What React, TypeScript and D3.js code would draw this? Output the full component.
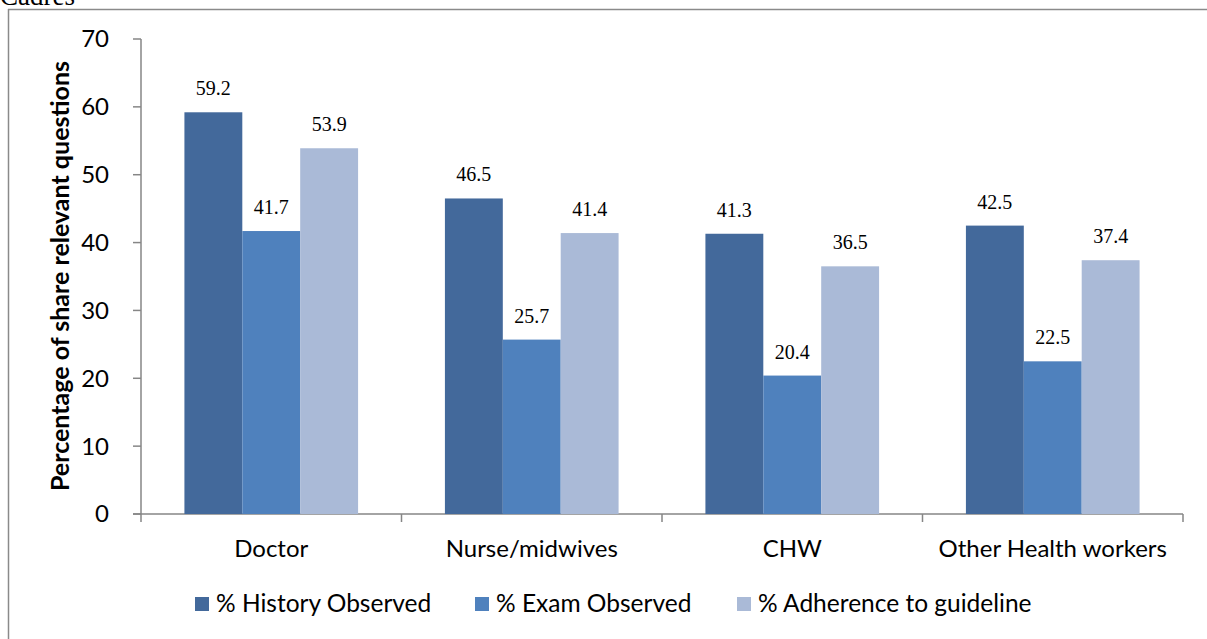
import React from "react";
import * as d3 from "d3";

const categories = ["Doctor", "Nurse/midwives", "CHW", "Other Health workers"];
const seriesNames = ["% History Observed", "% Exam Observed", "% Adherence to guideline"];
const historyObserved = [59.2, 46.5, 41.3, 42.5];
const examObserved = [41.7, 25.7, 20.4, 22.5];
const adherence = [53.9, 41.4, 36.5, 37.4];
const yTicks = [0, 10, 20, 30, 40, 50, 60, 70];
const colors = ["#43699B", "#4F81BD", "#AABAD7"];

const W = 1207;
const H = 639;
const SANS = "Lato, Carlito, Calibri, sans-serif";
const SERIF = "'Liberation Serif', 'Times New Roman', serif";

export default function App() {
  const seriesValues = [historyObserved, examObserved, adherence];
  const x0 = d3.scaleBand<string>().domain(categories).range([141, 1183]).paddingInner(0).paddingOuter(0);
  const x1 = d3
    .scaleBand<string>()
    .domain(seriesNames)
    .range([0, x0.bandwidth()])
    .paddingInner(0)
    .paddingOuter(0.75);
  const y = d3.scaleLinear().domain([0, 70]).range([514, 39]);
  const axisColor = "#868686";

  const legendX = [195, 475, 737];

  return (
    <svg
      width={W}
      height={H}
      style={{ position: "absolute", left: 0, top: 0, background: "#fff" }}
      xmlns="http://www.w3.org/2000/svg"
    >
      <text x={0} y={5} fontFamily={SERIF} fontSize={27} fill="#000">
        Cadres
      </text>
      {/* frame */}
      <line x1={8} y1={9.5} x2={W} y2={9.5} stroke="#8a8a8a" strokeWidth={1.5} />
      <line x1={8.5} y1={9} x2={8.5} y2={H} stroke="#8a8a8a" strokeWidth={1.5} />

      {/* y axis */}
      <line x1={141} y1={y(70)} x2={141} y2={y(0)} stroke={axisColor} strokeWidth={1.5} />
      {yTicks.map((t) => (
        <g key={t}>
          <line x1={133} x2={141} y1={y(t)} y2={y(t)} stroke={axisColor} strokeWidth={1.5} />
          <text
            x={109}
            y={y(t)}
            dy="0.35em"
            textAnchor="end"
            fontFamily={SANS}
            fontSize={24}
            fill="#000"
          >
            {t}
          </text>
        </g>
      ))}
      {/* x axis */}
      <line x1={133} x2={1183} y1={y(0)} y2={y(0)} stroke={axisColor} strokeWidth={1.5} />
      {[...categories.map((c) => x0(c) as number), 1183].map((px, i) => (
        <line key={i} x1={px} x2={px} y1={y(0)} y2={y(0) + 8} stroke={axisColor} strokeWidth={1.5} />
      ))}
      {categories.map((c) => (
        <text
          key={c}
          x={(x0(c) as number) + x0.bandwidth() / 2}
          y={557}
          textAnchor="middle"
          fontFamily={SANS}
          fontSize={24}
          fill="#000"
        >
          {c}
        </text>
      ))}

      {/* bars */}
      {categories.map((c, ci) => (
        <g key={c} transform={`translate(${x0(c)},0)`}>
          {seriesNames.map((s, si) => {
            const v = seriesValues[si][ci];
            const bx = x1(s) as number;
            return (
              <g key={s}>
                <rect x={bx} y={y(v)} width={x1.bandwidth()} height={y(0) - y(v)} fill={colors[si]} />
                <text
                  x={bx + x1.bandwidth() / 2}
                  y={y(v) - 17}
                  textAnchor="middle"
                  fontFamily={SERIF}
                  fontSize={20}
                  fill="#000"
                >
                  {v.toFixed(1)}
                </text>
              </g>
            );
          })}
        </g>
      ))}

      {/* y title */}
      <text
        transform={`translate(69,276) rotate(-90)`}
        textAnchor="middle"
        fontFamily={SANS}
        fontWeight="bold"
        fontSize={25}
        fill="#000"
      >
        Percentage of share relevant questions
      </text>

      {/* legend */}
      {seriesNames.map((s, i) => (
        <g key={s}>
          <rect x={legendX[i]} y={597} width={14} height={14} fill={colors[i]} />
          <text x={legendX[i] + 21} y={612} fontFamily={SANS} fontSize={24.5} fill="#000">
            {s}
          </text>
        </g>
      ))}
    </svg>
  );
}
